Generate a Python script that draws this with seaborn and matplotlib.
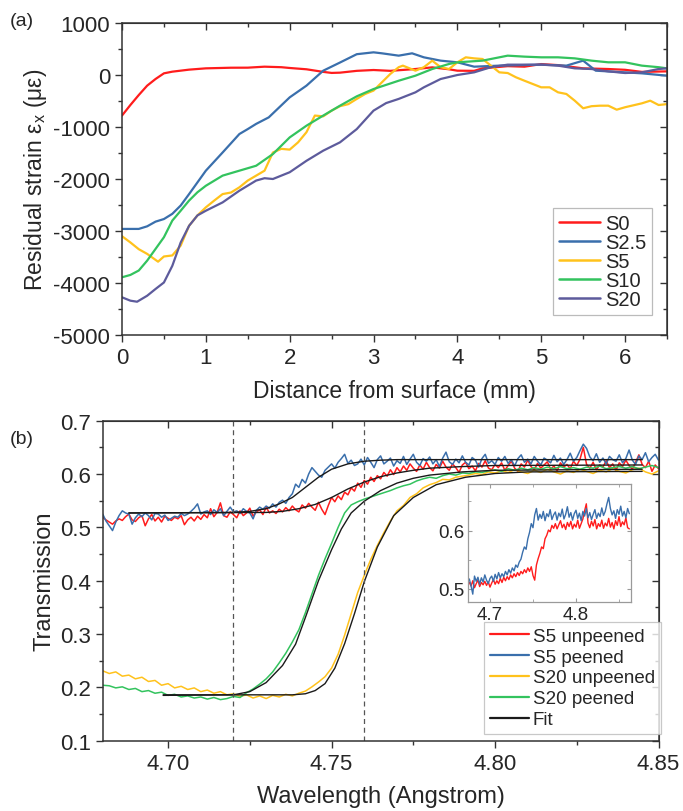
import numpy as np
import matplotlib
matplotlib.use("Agg")
import matplotlib.pyplot as plt
from matplotlib.ticker import MultipleLocator, FormatStrFormatter
from matplotlib.lines import Line2D
import seaborn as sns

# ---------------- Panel (a) data: residual strain profiles ----------------
s0_x = [0, 0.1, 0.2, 0.3, 0.4, 0.5, 0.6, 0.8, 1.0, 1.3, 1.5, 1.7, 1.9, 2.0, 2.2, 2.4, 2.5, 2.6,
        2.8, 3.0, 3.2, 3.5, 3.7, 3.9, 4.0, 4.2, 4.3, 4.6, 4.8, 5.0, 5.2, 5.5, 5.8, 6.0, 6.2, 6.5]
s0_y = [-780, -577, -385, -205, -77, 32, 64, 103, 128, 140, 141, 160, 150, 135, 110, 60, 40, 45,
        80, 96, 80, 115, 147, 110, 83, 80, 128, 170, 160, 210, 190, 128, 115, 100, 60, 70]

s25_x = [0, 0.2, 0.3, 0.4, 0.5, 0.6, 0.7, 0.8, 1.0, 1.2, 1.4, 1.5, 1.6, 1.75, 2.0, 2.2, 2.4, 2.6,
         2.8, 3.0, 3.1, 3.3, 3.46, 3.6, 3.8, 4.0, 4.2, 4.5, 5.0, 5.3, 5.5, 5.65, 6.0, 6.2, 6.5]
s25_y = [-2960, -2960, -2910, -2820, -2770, -2670, -2510, -2290, -1840, -1490, -1135, -1040, -940,
         -815, -430, -205, 83, 240, 400, 436, 417, 372, 417, 340, 276, 244, 160, 180, 199, 180, 276,
         83, 51, 32, -13]

s5_x = [0, 0.1, 0.2, 0.3, 0.43, 0.5, 0.6, 0.7, 0.8, 0.9, 1.0, 1.1, 1.2, 1.3, 1.4, 1.5, 1.6, 1.7,
        1.8, 1.9, 2.0, 2.1, 2.2, 2.3, 2.4, 2.5, 2.6, 2.7, 2.8, 2.9, 3.0, 3.1, 3.2, 3.3, 3.35, 3.5,
        3.6, 3.7, 3.8, 3.9, 4.0, 4.1, 4.2, 4.3, 4.4, 4.5, 4.6, 4.7, 4.8, 5.0, 5.1, 5.2, 5.3, 5.4,
        5.5, 5.6, 5.7, 5.8, 5.9, 6.0, 6.2, 6.3, 6.4, 6.5]
s5_y = [-3100, -3220, -3350, -3440, -3590, -3490, -3470, -3280, -2900, -2700, -2545, -2415, -2290,
        -2260, -2160, -2030, -1935, -1840, -1490, -1420, -1435, -1295, -1100, -780, -795, -685,
        -600, -560, -460, -365, -300, -140, 20, 150, 180, 83, 150, 275, 150, 115, 244, 340, 320,
        308, 180, 51, 38, -45, -110, -237, -237, -333, -365, -494, -640, -600, -590, -590, -667,
        -620, -545, -494, -577, -560]

s10_x = [0, 0.1, 0.2, 0.3, 0.4, 0.5, 0.6, 0.7, 0.8, 0.9, 1.0, 1.2, 1.4, 1.6, 1.8, 2.0, 2.2, 2.4,
         2.6, 2.8, 3.0, 3.3, 3.5, 3.7, 3.9, 4.0, 4.3, 4.5, 4.6, 4.8, 5.0, 5.2, 5.4, 5.6, 5.8, 6.0,
         6.2, 6.4, 6.5]
s10_y = [-3890, -3845, -3760, -3570, -3345, -3120, -2800, -2610, -2415, -2255, -2130, -1935, -1840,
         -1745, -1520, -1200, -975, -780, -590, -410, -270, -110, -13, 115, 212, 244, 276, 340, 372,
         353, 340, 340, 320, 276, 244, 244, 180, 150, 128]

s20_x = [0, 0.1, 0.18, 0.3, 0.4, 0.5, 0.6, 0.7, 0.8, 0.9, 1.0, 1.2, 1.4, 1.6, 1.7, 1.8, 2.0, 2.2,
         2.4, 2.6, 2.8, 3.0, 3.15, 3.3, 3.5, 3.6, 3.8, 4.0, 4.2, 4.4, 4.6, 4.8, 5.0, 5.2, 5.4, 5.6,
         5.8, 6.0, 6.2, 6.4, 6.5]
s20_y = [-4275, -4340, -4360, -4245, -4115, -3990, -3670, -3220, -2900, -2700, -2610, -2450, -2225,
         -2030, -1985, -2000, -1870, -1650, -1455, -1295, -1040, -685, -540, -460, -333, -237, -77,
         0, 51, 150, 199, 199, 199, 180, 128, 115, 70, 38, 51, 115, 128]

strain_labels = ["S0", "S2.5", "S5", "S10", "S20"]

# ---------------- Panel (b) data: Bragg-edge transmission ----------------
wl_fine = np.round(np.linspace(4.680, 4.850, 171), 4)      # 0.001 A grid
wl_coarse = np.round(np.linspace(4.680, 4.850, 86), 4)     # 0.002 A grid

s5_unpeened = [519, 514, 510, 506, 512, 516, 513, 520, 525, 514, 511, 518, 522, 503, 516, 524, 512,
               519, 510, 521, 517, 513, 519, 516, 522, 505, 514, 519, 512, 521, 515, 524, 518, 535,
               520, 528, 546, 522, 519, 529, 524,
               518, 531, 522, 527, 536, 521, 529, 533, 524, 538,
               527, 531, 526, 534, 529, 537, 531, 540, 533, 529,
               542, 536, 545, 538, 532, 547, 534, 524, 541, 556,
               548, 559, 552, 566, 561, 574, 568, 583, 575, 588,
               581, 594, 586, 597, 591, 603, 596, 608, 599, 612,
               604, 615, 607, 619, 611, 605, 617, 609, 622, 612,
               606, 618, 611, 624, 613, 607, 619, 612, 603, 617,
               622, 610, 615, 606, 620, 613, 625, 611, 608, 618,
               612, 621, 607, 616, 624, 611, 605, 619, 613, 626,
               614, 608, 620, 611, 617, 623, 609, 615, 606, 621,
               613, 618, 610, 624, 616, 628, 650, 618, 611, 622,
               608, 617, 613, 625, 612, 619, 607, 621, 614, 626,
               616, 609, 622, 636, 618, 612, 624, 605, 617, 610]
s5_peened = [525, 512, 503, 494, 510, 522, 531, 527, 525, 506,
             518, 525, 520, 527, 522, 514, 526, 525, 519, 523,
             513, 517, 521, 519, 526, 522, 525, 530, 536, 544,
             525, 529, 531, 524, 533, 528, 535, 522, 530, 538,
             529, 531, 526, 535, 530, 527, 516, 532, 538, 534,
             540, 536, 544, 538, 547, 551, 545, 556, 563, 581,
             575, 590, 583, 600, 612, 605, 598, 594, 607, 613,
             619, 611, 622, 629, 637, 620, 626, 616, 619, 628,
             617, 631, 622, 612, 627, 634, 619, 624, 630, 615,
             625, 620, 633, 618, 628, 637, 622, 616, 629, 624,
             632, 619, 627, 614, 630, 641, 623, 618, 628, 621,
             634, 622, 617, 631, 626, 613, 629, 637, 620, 625,
             618, 631, 624, 633, 620, 627, 615, 629, 636, 622,
             628, 619, 633, 624, 617, 630, 626, 621, 635, 623,
             630, 618, 627, 639, 624, 631, 644, 656, 648, 632,
             625, 638, 622, 630, 619, 633, 627, 624, 636, 621,
             629, 645, 626, 618, 634, 627, 640, 623, 631, 637,
             626]
s20_unpeened = [231, 226, 229, 221, 223, 216, 219, 211, 213, 204,
                207, 199, 202, 196, 199, 192, 195, 189, 192, 186,
                188, 183, 186, 180, 184, 179, 185, 182, 187, 184,
                189, 193, 201, 210, 220, 236, 262, 298, 338, 378,
                410, 440, 466, 490, 512, 531, 541, 556, 563, 574,
                580, 584, 590, 589, 594, 596, 598, 601, 599, 604,
                602, 606, 603, 608, 604, 601, 607, 603, 609, 604,
                600, 606, 603, 609, 605, 601, 607, 604, 610, 605,
                602, 608, 611, 604, 600, 606]
s20_peened = [204, 203, 199, 201, 196, 198, 192, 194, 189, 191,
              185, 187, 182, 184, 180, 182, 178, 181, 177, 179,
              183, 181, 190, 197, 206, 216, 229, 246, 264, 285,
              308, 340, 375, 410, 441, 470, 500, 527, 542, 548,
              553, 557, 561, 565, 569, 574, 578, 581, 587, 591,
              594, 592, 597, 600, 598, 602, 601, 604, 603, 606,
              608, 605, 610, 607, 611, 608, 612, 609, 613, 610,
              614, 610, 612, 609, 613, 611, 615, 610, 612, 614,
              611, 614, 610, 613, 616, 612]

fit_s5u_x = [4.688, 4.730, 4.735, 4.740, 4.745, 4.750, 4.755, 4.760, 4.765, 4.770, 4.775, 4.780,
             4.790, 4.800, 4.845]
fit_s5u_y = [0.527, 0.528, 0.530, 0.535, 0.543, 0.556, 0.572, 0.585, 0.595, 0.602, 0.607, 0.611,
             0.614, 0.616, 0.617]
fit_s5p_x = [4.688, 4.720, 4.725, 4.730, 4.734, 4.738, 4.742, 4.746, 4.750, 4.755, 4.760, 4.765,
             4.770, 4.780, 4.845]
fit_s5p_y = [0.527, 0.528, 0.530, 0.535, 0.544, 0.556, 0.575, 0.594, 0.609, 0.619, 0.624, 0.626,
             0.627, 0.627, 0.627]
fit_s20p_x = [4.6985, 4.720, 4.725, 4.730, 4.735, 4.739, 4.742, 4.746, 4.750, 4.753, 4.756, 4.760,
              4.765, 4.770, 4.775, 4.780, 4.790, 4.800, 4.845]
fit_s20p_y = [0.185, 0.186, 0.192, 0.209, 0.241, 0.281, 0.331, 0.400, 0.458, 0.497, 0.527, 0.549,
              0.569, 0.583, 0.592, 0.598, 0.604, 0.607, 0.609]
fit_s20u_x = [4.6985, 4.738, 4.742, 4.745, 4.748, 4.751, 4.754, 4.757, 4.760, 4.764, 4.769, 4.775,
              4.782, 4.791, 4.800, 4.810, 4.845]
fit_s20u_y = [0.186, 0.186, 0.188, 0.194, 0.207, 0.236, 0.282, 0.338, 0.398, 0.463, 0.522, 0.556,
              0.580, 0.594, 0.601, 0.604, 0.605]

edge_marks = [4.72, 4.76]

# inset data
wl_inset = np.round(np.linspace(4.676, 4.862, 94), 4)
inset_peened = [517, 505, 491, 522, 513, 520, 508, 519, 512, 524,
                515, 509, 518, 522, 513, 525, 517, 528, 519, 526,
                521, 530, 524, 533, 527, 536, 531, 541, 537, 546,
                551, 563, 572, 568, 586, 597, 612, 605, 627, 638,
                618, 628, 621, 633, 617, 629, 624, 636, 619, 627,
                632, 618, 630, 624, 637, 620, 628, 641, 623, 631,
                618, 629, 635, 621, 630, 617, 633, 625, 638, 622,
                631, 619, 628, 636, 621, 630, 624, 639, 626, 633,
                646, 657, 638, 627, 634, 621, 636, 628, 642, 625,
                633, 622, 638, 629]
inset_unpeened = [511, 505, 514, 502, 509, 515, 504, 511, 507, 513,
                  506, 512, 503, 510, 516, 508, 514, 509, 518, 511,
                  520, 514, 521, 516, 524, 519, 526, 521, 528, 523,
                  530, 526, 533, 528, 536, 530, 538, 523, 515, 541,
                  552, 561, 572, 569, 586, 592, 601, 598, 609, 604,
                  612, 603, 610, 617, 605, 611, 602, 614, 607, 616,
                  603, 611, 606, 618, 604, 612, 620, 634, 646, 613,
                  605, 616, 608, 619, 603, 612, 607, 618, 604, 613,
                  608, 621, 606, 614, 603, 617, 609, 624, 607, 615,
                  610, 622, 605, 603]

trans_labels = ["S5 unpeened", "S5 peened", "S20 unpeened", "S20 peened", "Fit"]

# ---------------- styling ----------------
sns.set_style("ticks")
plt.rcParams["font.family"] = ["Liberation Sans", "DejaVu Sans"]
plt.rcParams["mathtext.fontset"] = "custom"
plt.rcParams["mathtext.rm"] = "Liberation Sans"
plt.rcParams["mathtext.it"] = "Liberation Sans:italic"
plt.rcParams["axes.unicode_minus"] = False

spine_c = "#333333"
c_red = "#ff1c1c"
c_blue = "#3a6fac"
c_yel = "#ffc21c"
c_grn = "#33c35e"
c_pur = "#5d5b9c"

fig = plt.figure(figsize=(6.83, 8.12), dpi=100)
W, H = 683.0, 812.0


def frac(l, r, t, b):
    return [l / W, 1 - b / H, (r - l) / W, (b - t) / H]


def style_axes(ax, lab_size, xmaj, xmin, ymaj, ymin):
    for s in ax.spines.values():
        s.set_color(spine_c)
        s.set_linewidth(1.1)
    ax.xaxis.set_major_locator(MultipleLocator(xmaj))
    ax.xaxis.set_minor_locator(MultipleLocator(xmin))
    ax.yaxis.set_major_locator(MultipleLocator(ymaj))
    ax.yaxis.set_minor_locator(MultipleLocator(ymin))
    ax.tick_params(which="both", color=spine_c, labelsize=lab_size, width=1.0,
                   direction="out", top=False, right=False)
    ax.tick_params(which="major", length=5)
    ax.tick_params(which="minor", length=3)
    # mirrored inward ticks on top and right
    top = ax.secondary_xaxis("top")
    top.xaxis.set_major_locator(MultipleLocator(xmaj))
    top.xaxis.set_minor_locator(MultipleLocator(xmin))
    top.tick_params(which="both", direction="in", color=spine_c, width=1.0, labeltop=False)
    top.tick_params(which="major", length=5)
    top.tick_params(which="minor", length=3)
    top.spines["top"].set_color(spine_c)
    rgt = ax.secondary_yaxis("right")
    rgt.yaxis.set_major_locator(MultipleLocator(ymaj))
    rgt.yaxis.set_minor_locator(MultipleLocator(ymin))
    rgt.tick_params(which="both", direction="in", color=spine_c, width=1.0, labelright=False)
    rgt.tick_params(which="major", length=5)
    rgt.tick_params(which="minor", length=3)
    rgt.spines["right"].set_color(spine_c)


# ---- panel (a)
ax1 = fig.add_axes(frac(122, 667, 24, 336))
series_a = [(s0_x, s0_y, c_red), (s25_x, s25_y, c_blue), (s5_x, s5_y, c_yel),
            (s10_x, s10_y, c_grn), (s20_x, s20_y, c_pur)]
handles_a = []
for (xs, ys, c), lab in zip(series_a, strain_labels):
    sns.lineplot(x=xs, y=ys, ax=ax1, color=c, lw=1.6, sort=False, estimator=None)
    handles_a.append(Line2D([], [], color=c, lw=1.8, label=lab))
ax1.set_xlim(0, 6.5)
ax1.set_ylim(-5000, 1000)
style_axes(ax1, 16, 1, 0.5, 1000, 500)
ax1.set_xlabel("Distance from surface (mm)", fontsize=16.5, labelpad=8)
ax1.set_ylabel(r"Residual strain ε$_\mathregular{x}$ (με)", fontsize=16.5, labelpad=3)
leg1 = ax1.legend(handles=handles_a, loc="upper right", bbox_to_anchor=(0.9725, 0.407),
                  borderaxespad=0, fancybox=False, frameon=True, fontsize=14.5,
                  handlelength=2.0, handletextpad=0.25, labelspacing=0.0, borderpad=0.3)
leg1.get_frame().set_edgecolor("#aaaaaa")
leg1.get_frame().set_linewidth(0.9)

# ---- panel (b)
ax2 = fig.add_axes(frac(102.7, 658.5, 421.7, 741.7))
data_b = [(wl_fine, s5_unpeened, c_red), (wl_fine, s5_peened, c_blue),
          (wl_coarse, s20_unpeened, c_yel), (wl_coarse, s20_peened, c_grn)]
handles_b = []
for (xs, ys, c), lab in zip(data_b, trans_labels[:4]):
    sns.lineplot(x=xs, y=np.array(ys) / 1000.0, ax=ax2, color=c, lw=1.1, sort=False, estimator=None)
    handles_b.append(Line2D([], [], color=c, lw=1.6, label=lab))
for xs, ys in [(fit_s5u_x, fit_s5u_y), (fit_s5p_x, fit_s5p_y),
               (fit_s20p_x, fit_s20p_y), (fit_s20u_x, fit_s20u_y)]:
    sns.lineplot(x=xs, y=ys, ax=ax2, color="#1a1a1a", lw=1.0, sort=False, estimator=None)
handles_b.append(Line2D([], [], color="#1a1a1a", lw=1.6, label=trans_labels[4]))
for xv in edge_marks:
    ax2.axvline(xv, color="#555555", lw=0.9, ls=(0, (4, 3)))
ax2.set_xlim(4.68, 4.85)
ax2.set_ylim(0.1, 0.7)
style_axes(ax2, 16, 0.05, 0.025, 0.1, 0.05)
ax2.xaxis.set_major_formatter(FormatStrFormatter("%.2f"))
ax2.yaxis.set_major_formatter(FormatStrFormatter("%.1f"))
ax2.set_xlabel("Wavelength (Angstrom)", fontsize=17, labelpad=8)
ax2.set_ylabel("Transmission", fontsize=17, labelpad=3)
leg2 = ax2.legend(handles=handles_b, loc="upper right", bbox_to_anchor=(1.004, 0.371),
                  borderaxespad=0, fancybox=False, frameon=True, fontsize=13.5,
                  handlelength=2.1, handletextpad=0.2, labelspacing=0.2, borderpad=0.3)
leg2.get_frame().set_edgecolor("#bbbbbb")
leg2.get_frame().set_linewidth(0.9)

# ---- inset
ax3 = fig.add_axes(frac(468.3, 630.7, 485, 603.3))
ax3.set_facecolor("white")
sns.lineplot(x=wl_inset, y=np.array(inset_unpeened) / 1000.0, ax=ax3, color=c_red, lw=1.0,
             sort=False, estimator=None)
sns.lineplot(x=wl_inset, y=np.array(inset_peened) / 1000.0, ax=ax3, color=c_blue, lw=1.0,
             sort=False, estimator=None)
ax3.set_xlim(4.6748, 4.8636)
ax3.set_ylim(0.477, 0.68)
ax3.xaxis.set_major_locator(MultipleLocator(0.1))
ax3.xaxis.set_minor_locator(MultipleLocator(0.05))
ax3.yaxis.set_major_locator(MultipleLocator(0.1))
ax3.yaxis.set_minor_locator(MultipleLocator(0.05))
ax3.xaxis.set_major_formatter(FormatStrFormatter("%.1f"))
ax3.yaxis.set_major_formatter(FormatStrFormatter("%.1f"))
for s in ax3.spines.values():
    s.set_color("#9a9a9a")
    s.set_linewidth(0.9)
ax3.tick_params(which="both", direction="in", color="#9a9a9a", labelsize=13.5,
                top=True, right=True, pad=3)
ax3.tick_params(which="major", length=3)
ax3.tick_params(which="minor", length=2)

# panel letters
fig.text(10 / W, 1 - 22 / H, "(a)", fontsize=14, va="center", ha="left")
fig.text(10 / W, 1 - 440 / H, "(b)", fontsize=14, va="center", ha="left")

fig.savefig("out.png", dpi=100)
